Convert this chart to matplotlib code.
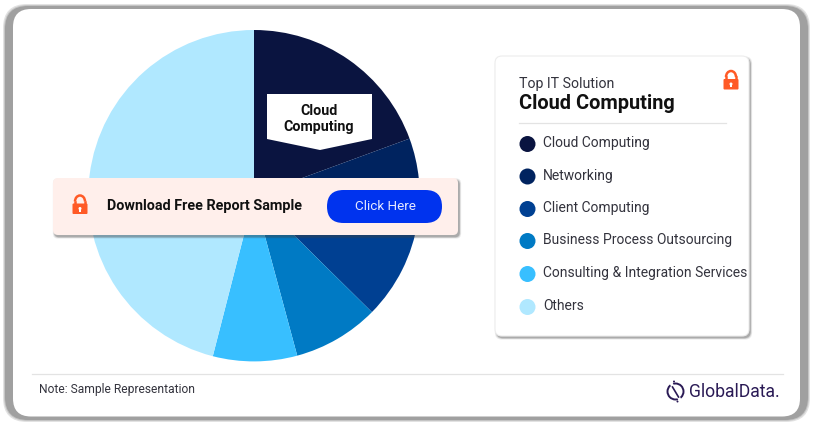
import matplotlib
matplotlib.use("Agg")
import matplotlib.pyplot as plt
from matplotlib.patches import FancyBboxPatch, Polygon, Circle, Arc, Rectangle

W, H = 813, 426

segments = ["Cloud Computing", "Networking", "Client Computing",
            "Business Process Outsourcing", "Consulting & Integration Services", "Others"]
shares = [19.4, 8.0, 10.0, 8.4, 8.2, 46.0]
colors = ["#0A1440", "#00235F", "#004092", "#007AC4", "#38BFFF", "#B0E8FF"]

plt.rcParams['font.family'] = ['Roboto', 'DejaVu Sans']
DARK = "#33333D"
ORANGE = "#FF5A26"
LOGO = "#2A1A55"

fig = plt.figure(figsize=(W / 100, H / 100), dpi=100, facecolor="white")


def overlay(z):
    a = fig.add_axes([0, 0, 1, 1], zorder=z)
    a.set_xlim(0, W)
    a.set_ylim(H, 0)
    a.axis("off")
    return a


def rbox(a, x0, y0, x1, y1, r, **kw):
    p = FancyBboxPatch((x0 + r, y0 + r), x1 - x0 - 2 * r, y1 - y0 - 2 * r,
                       boxstyle="round,pad=%f,rounding_size=%f" % (r, r), **kw)
    a.add_patch(p)
    return p


def shadow(a, x0, y0, x1, y1, r, dx=1.5, dy=2):
    for grow, alpha in [(1.6, 0.10), (0.9, 0.16), (0.3, 0.25)]:
        rbox(a, x0 + dx - grow, y0 + dy - grow, x1 + dx + grow, y1 + dy + grow, r,
             fc="#404040", ec="none", alpha=alpha)


def lock(a, cx, top, scale=1.0):
    # body plus shackle, keyhole in white
    s = scale
    a.add_patch(Arc((cx, top + 6 * s), 10 * s, 12 * s, theta1=180, theta2=360, ec=ORANGE, lw=1.8))
    a.plot([cx - 5 * s, cx - 5 * s], [top + 6 * s, top + 9 * s], color=ORANGE, lw=1.8)
    a.plot([cx + 5 * s, cx + 5 * s], [top + 6 * s, top + 9 * s], color=ORANGE, lw=1.8)
    rbox(a, cx - 7.5 * s, top + 8 * s, cx + 7.5 * s, top + 18.5 * s, 1, fc=ORANGE, ec="none")
    a.add_patch(Circle((cx, top + 13 * s), 1.5 * s, fc="white", ec="none"))
    a.add_patch(Rectangle((cx - 0.6 * s, top + 13 * s), 1.2 * s, 3 * s, fc="white", ec="none"))


# outer frame
bg = overlay(0)
rbox(bg, 3, 4, 810, 422, 24, fc="#E2E2E2", ec="none")
rbox(bg, 4, 5, 809, 421, 24, fc="#C4C4C4", ec="none")
rbox(bg, 5, 6, 808, 420, 23, fc="#A0A0A0", ec="none")
rbox(bg, 13, 9, 800, 416.5, 18, fc="white", ec="none")

# pie
cx, cy, R = 254, 195.7, 165.7
ax = fig.add_axes([(cx - R) / W, 1 - (cy + R) / H, 2 * R / W, 2 * R / H], zorder=1)
ax.pie(shares, colors=colors, startangle=90, counterclock=False, radius=1,
       wedgeprops=dict(lw=0))
ax.set_xlim(-1, 1)
ax.set_ylim(-1, 1)

top = overlay(2)

# callout on the top slice
top.add_patch(Polygon([(267, 94), (372, 94), (372, 139), (320, 150), (267, 139)], fc="white", ec="none"))
top.text(319, 119, "Cloud\nComputing", ha="center", va="center", fontsize=10.3,
         fontweight="bold", color="#111111", linespacing=1.1)

# banner
shadow(top, 53, 178, 458, 235, 5)
rbox(top, 53, 178, 458, 235, 5, fc="#FFEFEB", ec="none")
lock(top, 80, 195.5)
top.text(107, 206, "Download Free Report Sample", va="center", fontsize=10.35,
         fontweight="bold", color="#111111")
rbox(top, 327, 190, 442, 223, 16.5, fc="#0033EE", ec="none")
top.text(385, 206.5, "Click Here", ha="center", va="center", fontsize=9.7, color="#E4E8FF")

# legend card
shadow(top, 495, 56, 749, 336, 7)
rbox(top, 495, 56, 749, 336, 7, fc="white", ec="#EDEDED", lw=0.8)
lock(top, 731, 71)
top.text(519, 84, "Top IT Solution", va="center", fontsize=10.2, color=DARK)
top.text(519, 103.5, "Cloud Computing", va="center", fontsize=14.45, fontweight="bold", color="#111111")
top.plot([519, 726], [122.5, 122.5], color="#E3E3E3", lw=0.9)
legend_y = [144, 176.5, 209, 241, 274, 307]
for name, col, y in zip(segments, colors, legend_y):
    top.add_patch(Circle((527.5, y), 8, fc=col, ec="none"))
    top.text(543, y - 0.7, name, va="center", fontsize=10.0, color=DARK)

# footer
top.plot([32, 783], [373.5, 373.5], color="#E3E3E3", lw=0.9)
top.text(39, 390, "Note: Sample Representation", va="center", fontsize=8.65, color=DARK)
top.add_patch(Circle((675.5, 391.5), 8, fc="none", ec=LOGO, lw=1.4))
top.plot([671, 680], [383, 400], color="white", lw=2.2)
top.plot([672.5, 678.5], [387, 397], color=LOGO, lw=1.2)
top.add_patch(Circle((674, 381.5), 1, fc=LOGO, ec="none"))
top.add_patch(Circle((677.5, 401.5), 1, fc=LOGO, ec="none"))
top.text(689, 392, "GlobalData.", va="center", fontsize=12.7, color=LOGO)

fig.savefig("out.png", dpi=100)
